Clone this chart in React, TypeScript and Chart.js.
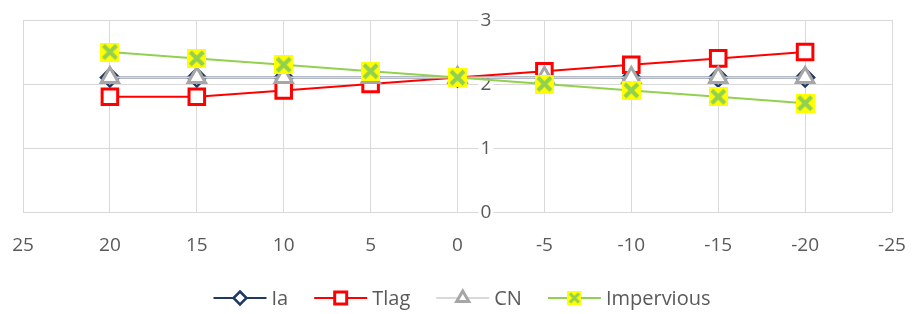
import React, { useEffect, useRef } from "react";
import { Chart, registerables } from "chart.js";

Chart.register(...registerables);

// ---- data ----
const xValues = [20, 15, 10, 5, 0, -5, -10, -15, -20];
const iaValues = [2.1, 2.1, 2.1, 2.1, 2.1, 2.1, 2.1, 2.1, 2.1];
const tlagValues = [1.8, 1.8, 1.9, 2.0, 2.1, 2.2, 2.3, 2.4, 2.5];
const cnValues = [2.1, 2.1, 2.1, 2.1, 2.1, 2.1, 2.1, 2.1, 2.1];
const imperviousValues = [2.5, 2.4, 2.3, 2.2, 2.1, 2.0, 1.9, 1.8, 1.7];
const yTickLabels = [0, 1, 2, 3];
const seriesNames = ["Ia", "Tlag", "CN", "Impervious"];

const FONT = "'Open Sans', 'Liberation Sans', sans-serif";
const TEXT = "#595959";
const GRID = "#D9D9D9";
const NAVY = "#203864";
const RED = "#FF0000";
const GRAY = "#A6A6A6";
const LIGHTGRAY = "#D9D9D9";
const GREEN = "#92D050";
const YELLOW = "#FFFF00";

function xMarker(size: number, lw: number, inset: number): HTMLCanvasElement {
  const c = document.createElement("canvas");
  c.width = size;
  c.height = size;
  const ctx = c.getContext("2d")!;
  ctx.fillStyle = YELLOW;
  ctx.fillRect(0, 0, size, size);
  ctx.strokeStyle = GREEN;
  ctx.lineWidth = lw;
  const p = inset;
  ctx.beginPath();
  ctx.moveTo(p, p);
  ctx.lineTo(size - p, size - p);
  ctx.moveTo(size - p, p);
  ctx.lineTo(p, size - p);
  ctx.stroke();
  return c;
}

function drawLegendMarker(ctx: CanvasRenderingContext2D, i: number, x: number, y: number) {
  ctx.save();
  if (i === 0) {
    const r = 6.5;
    ctx.beginPath();
    ctx.moveTo(x, y - r);
    ctx.lineTo(x + r, y);
    ctx.lineTo(x, y + r);
    ctx.lineTo(x - r, y);
    ctx.closePath();
    ctx.fillStyle = "#fff";
    ctx.fill();
    ctx.lineWidth = 2.5;
    ctx.strokeStyle = NAVY;
    ctx.stroke();
  } else if (i === 1) {
    const h = 6;
    ctx.fillStyle = "#fff";
    ctx.fillRect(x - h, y - h, 2 * h, 2 * h);
    ctx.lineWidth = 3;
    ctx.strokeStyle = RED;
    ctx.strokeRect(x - h, y - h, 2 * h, 2 * h);
  } else if (i === 2) {
    const r = 7;
    ctx.beginPath();
    ctx.moveTo(x, y - r);
    ctx.lineTo(x + r * 0.866, y + r / 2);
    ctx.lineTo(x - r * 0.866, y + r / 2);
    ctx.closePath();
    ctx.fillStyle = "#fff";
    ctx.fill();
    ctx.lineWidth = 3;
    ctx.strokeStyle = GRAY;
    ctx.stroke();
  } else {
    const img = xMarker(14, 3, 2.5);
    ctx.drawImage(img, x - 7, y - 7);
  }
  ctx.restore();
}

const lineColors = [NAVY, RED, LIGHTGRAY, GREEN];

const yLabelsPlugin = {
  id: "yLabelsCenter",
  beforeDatasetsDraw(chart: any) {
    const ctx = chart.ctx as CanvasRenderingContext2D;
    const xs = chart.scales.x;
    const ys = chart.scales.y;
    const x0 = xs.getPixelForValue(0) + 23;
    ctx.save();
    ctx.font = `19px ${FONT}`;
    ctx.textAlign = "left";
    ctx.textBaseline = "middle";
    for (const v of yTickLabels) {
      const y = ys.getPixelForValue(v);
      const s = String(v);
      const w = ctx.measureText(s).width;
      ctx.fillStyle = "#fff";
      ctx.fillRect(x0 - 2, y - 3, w + 4, 6);
      ctx.fillStyle = TEXT;
      ctx.fillText(s, x0, y + 1);
    }
    ctx.restore();
  },
};

const legendPlugin = {
  id: "customLegend",
  afterDraw(chart: any) {
    const ctx = chart.ctx as CanvasRenderingContext2D;
    const lineLen = 53;
    const gapText = 5;
    const gapItem = 26;
    const cy = 298;
    ctx.save();
    ctx.font = `20px ${FONT}`;
    const names = chart.data.datasets.map((d: any) => d.label);
    const widths = names.map((n: string) => ctx.measureText(n).width);
    let total = 0;
    widths.forEach((w: number, i: number) => {
      total += lineLen + gapText + w + (i < widths.length - 1 ? gapItem : 0);
    });
    let x = (chart.width - total) / 2 + 5;
    names.forEach((n: string, i: number) => {
      ctx.strokeStyle = lineColors[i];
      ctx.lineWidth = 2;
      ctx.beginPath();
      ctx.moveTo(x, cy);
      ctx.lineTo(x + lineLen, cy);
      ctx.stroke();
      drawLegendMarker(ctx, i, x + lineLen / 2, cy);
      ctx.fillStyle = TEXT;
      ctx.textAlign = "left";
      ctx.textBaseline = "middle";
      ctx.fillText(n, x + lineLen + gapText, cy + 1);
      x += lineLen + gapText + widths[i] + gapItem;
    });
    ctx.restore();
  },
};

export default function App() {
  const ref = useRef<HTMLCanvasElement | null>(null);

  useEffect(() => {
    document.body.style.margin = "0";
    const canvas = ref.current;
    if (!canvas) return;
    const toPts = (vals: number[]) => xValues.map((x, i) => ({ x, y: vals[i] }));
    const chart = new Chart(canvas, {
      type: "line",
      data: {
        datasets: [
          {
            label: seriesNames[0],
            data: toPts(iaValues),
            borderColor: NAVY,
            borderWidth: 2,
            pointStyle: "rectRot",
            pointRadius: 9,
            pointBorderWidth: 2.5,
            pointBorderColor: NAVY,
            pointBackgroundColor: "#fff",
            order: 4,
          },
          {
            label: seriesNames[1],
            data: toPts(tlagValues),
            borderColor: RED,
            borderWidth: 2,
            pointStyle: "rect",
            pointRadius: 11,
            pointBorderWidth: 3,
            pointBorderColor: RED,
            pointBackgroundColor: "#fff",
            order: 3,
          },
          {
            label: seriesNames[2],
            data: toPts(cnValues),
            borderColor: LIGHTGRAY,
            borderWidth: 2,
            pointStyle: "triangle",
            pointRadius: 10,
            pointBorderWidth: 3,
            pointBorderColor: GRAY,
            pointBackgroundColor: "#fff",
            order: 2,
          },
          {
            label: seriesNames[3],
            data: toPts(imperviousValues),
            borderColor: GREEN,
            borderWidth: 2,
            pointStyle: xMarker(19, 4, 3) as any,
            pointRadius: 9.5,
            order: 1,
          },
        ],
      },
      options: {
        responsive: false,
        animation: false,
        layout: { padding: { left: 23, right: 22, top: 20, bottom: 0 } },
        plugins: {
          legend: { display: false },
          tooltip: { enabled: false },
        },
        scales: {
          x: {
            type: "linear",
            min: -25,
            max: 25,
            reverse: true,
            afterFit: (s: any) => {
              s.height = 102;
            },
            ticks: {
              stepSize: 5,
              color: TEXT,
              font: { family: FONT, size: 19 },
              padding: 4,
              maxRotation: 0,
            },
            grid: {
              color: GRID,
              lineWidth: 1,
              drawTicks: true,
              tickLength: 18,
              tickColor: "rgba(0,0,0,0)",
            },
            border: { display: false },
          },
          y: {
            min: 0,
            max: 3,
            afterFit: (s: any) => {
              s.width = 0;
            },
            ticks: { stepSize: 1, display: false },
            grid: { color: GRID, lineWidth: 1, drawTicks: false },
            border: { display: false },
          },
        },
      },
      plugins: [yLabelsPlugin, legendPlugin],
    });
    return () => chart.destroy();
  }, []);

  return (
    <div style={{ width: 914, height: 314, background: "#fff" }}>
      <canvas ref={ref} width={914} height={314} />
    </div>
  );
}
